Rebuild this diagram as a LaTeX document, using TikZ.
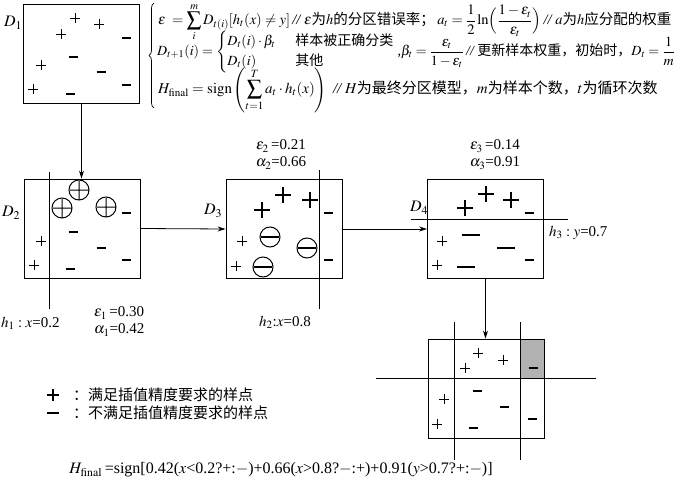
\documentclass[tikz,border=0pt]{standalone}
\usepackage{amsmath,amssymb}
\usepackage{mathptmx}
\usepackage{fontspec}
\setmainfont{Liberation Serif}
\newfontfamily\cjk{Noto Sans CJK SC}
\usetikzlibrary{
  arrows.meta,
  positioning,
  decorations.pathreplacing,
}
\newcommand{\zh}[1]{{\cjk #1}}
\newcommand{\cmt}{\,\textit{//}\,}
\tikzset{
  pix/.style={
    x=1pt, y=-1pt,
    font=\fontsize{15}{17}\selectfont,
  },
  sbox/.style={
    draw,
    line width=0.9pt,
    minimum width=116pt,
    minimum height=99pt,
    inner sep=0pt,
  },
  flow/.style={
    -{Stealth[length=8pt, width=5pt]},
    line width=0.8pt,
  },
  cut/.style={line width=0.9pt},
  smark/.style={line width=0.6pt},
  mmark/.style={line width=1.6pt},
  bmark/.style={line width=2.4pt},
  bmin/.style={line width=2.8pt},
  ring/.style={line width=1pt},
  lab/.style={inner sep=1pt, font=\fontsize{15}{17}\selectfont},
  dlab/.style={inner sep=1pt, font=\fontsize{16}{18}\selectfont},
  frm/.style={anchor=west, inner sep=0pt, font=\fontsize{#1}{16.5}\selectfont},
  keytext/.style={anchor=west, inner sep=0pt, font=\fontsize{15}{17}\selectfont\cjk},
}

\begin{document}
\begin{tikzpicture}[pix]
  \useasboundingbox (0,0) rectangle (700,481);

  % sample sets
  \node[sbox] (d1) at (81.5,54) {};
  \node[sbox] (d2) at (82,228.5) {};
  \node[sbox] (d3) at (284,229) {};
  \node[sbox] (d4) at (485.5,229) {};
  \fill[black!30] (520,339) rectangle (544,378);
  \node[sbox] (fin) at (486,388.5) {};

  \node[dlab] (l1) at (13,23) {$D_1$};
  \node[dlab] (l2) at (11,213) {$D_2$};
  \node[dlab] (l3) at (213,211) {$D_3$};
  \node[dlab] (l4) at (419,208) {$D_4$};

  \draw[flow] (d1.south) -- (d1.south |- d2.north);
  \draw[flow] (d2.east) -- (d3.west);
  \draw[flow] (d3.east) -- (d4.west);
  \draw[flow] (d4.south) -- (d4.south |- fin.north);

  % split lines
  \draw[cut] (49,172) -- (49,309);
  \draw[cut] (319,170) -- (319,309);
  \draw[cut] (411,219) -- (568,219);
  \draw[cut] (454,322) -- (454,460);
  \draw[cut] (520,322) -- (520,460);
  \draw[cut] (376,378) -- (596,378);

  % small marks
  \foreach \x/\y in {75/18, 99/24, 61/34, 41/65, 33/89,
                     41/241, 34/265, 242/241, 236/266,
                     442/241, 437/265,
                     478/353, 503/360, 465/368, 444/399, 437/424}
    \draw[smark] (\x,\y) +(-5,0) -- +(5,0) +(0,-5) -- +(0,5);
  \foreach \x/\y in {126/38, 73/57, 101/72, 126/85, 70/94,
                     126/213, 73/232, 101/248, 126/260, 70/269,
                     328/213, 328/260, 529/213, 529/260,
                     533/368, 477/391, 504/407, 532/419, 473/428}
    \draw[mmark] (\x,\y) +(-4.5,0) -- +(4.5,0);

  % weighted marks
  \foreach \x/\y in {79/190, 62/208, 106/207}
    \draw[ring] (\x,\y) circle (10) +(-9,0) -- +(9,0) +(0,-9) -- +(0,9);
  \foreach \x/\y in {270/237, 307/248, 263/267}
    \draw[ring] (\x,\y) circle (10) (\x,\y) +(-9,0) edge[line width=1.8pt] +(9,0);
  \foreach \x/\y in {262/210, 283/195, 310/200, 465/208, 486/194, 511/200}
    \draw[bmark] (\x,\y) +(-8,0) -- +(8,0) +(0,-8) -- +(0,8);
  \foreach \x/\y in {471/235, 506/248, 466/267}
    \draw[bmin] (\x,\y) +(-9,0) -- +(9,0);

  % round labels
  \node[lab, anchor=west] (h1) at (0,323) {$h_1: x$=0.2};
  \node[lab, anchor=west] (e1) at (93,313) {$\varepsilon_1$\,=0.30};
  \node[lab, anchor=west] (a1) at (93,330) {$\alpha_1$=0.42};
  \node[lab] (e2) at (281,146) {$\varepsilon_2$\,=0.21};
  \node[lab] (a2) at (281,163) {$\alpha_2$=0.66};
  \node[lab] (h2) at (285,322) {$h_2$:$x$=0.8};
  \node[lab] (e3) at (495,146) {$\varepsilon_3$\,=0.14};
  \node[lab] (a3) at (495,163) {$\alpha_3$=0.91};
  \node[lab, anchor=west] (h3) at (548,233) {$h_3: y$=0.7};

  % formulas
  \draw[line width=0.7pt, decorate, decoration={brace, amplitude=5pt}]
    (154,108) -- (154,3);
  \node[frm=14.5] (f1) at (158,22)
    {$\displaystyle\varepsilon\;=\sum_{i}^{m}D_{t(i)}[h_t(x)\neq y]$\cmt$\varepsilon$\zh{为}$h$\zh{的分区错误率；}\,$\displaystyle a_t=\frac{1}{2}\ln\Bigl(\frac{1-\varepsilon_t}{\varepsilon_t}\Bigr)$\cmt$a$\zh{为}$h$\zh{应分配的权重}};
  \node[frm=14] (f2) at (157,52)
    {$D_{t+1}(i)=\left\{\begin{array}{@{}l@{\hspace{20pt}}l@{}}D_t(i)\cdot\beta_t & \text{\zh{样本被正确分类}}\\[4pt] D_t(i) & \text{\zh{其他}}\end{array}\right.$\hspace{3pt},$\displaystyle\beta_t=\frac{\varepsilon_t}{1-\varepsilon_t}$\cmt\zh{更新样本权重，初始时，}$\displaystyle D_t=\frac{1}{m}$};
  \node[frm=15] (f3) at (158,90)
    {$\displaystyle H_{\mathrm{final}}=\mathrm{sign}\left(\sum_{t=1}^{T}a_t\cdot h_t(x)\right)$\ \cmt$H$\zh{为最终分区模型，}$m$\zh{为样本个数，}$t$\zh{为循环次数}};

  % legend
  \draw[mmark] (53,395) +(-6,0) -- +(6,0) +(0,-6) -- +(0,6);
  \draw[mmark] (53,413) +(-6,0) -- +(6,0);
  \node[keytext] (k1) at (73,395) {：满足插值精度要求的样点};
  \node[keytext] (k2) at (73,413) {：不满足插值精度要求的样点};

  \node[lab, font=\fontsize{16}{18}\selectfont] (hf) at (281,470)
    {$H_{\mathrm{final}}$\,=sign[0.42($x$<0.2?+:$-$)+0.66($x$>0.8?$-$:+)+0.91($y$>0.7?+:$-$)]};
\end{tikzpicture}
\end{document}
